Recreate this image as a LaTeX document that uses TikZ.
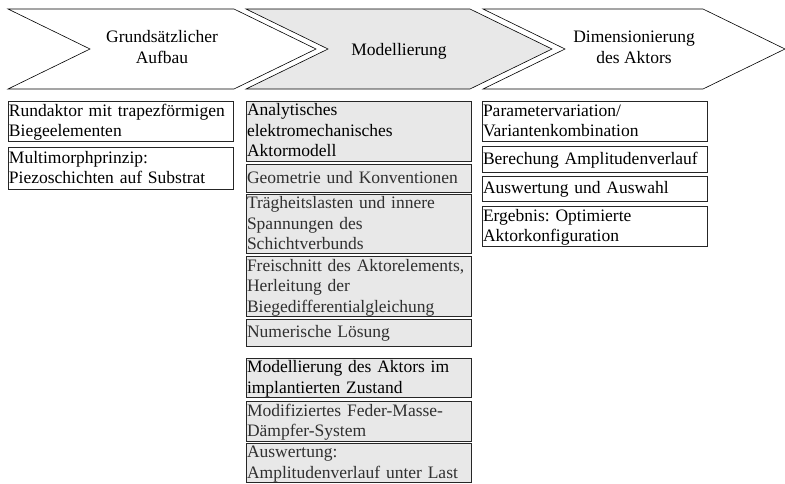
\documentclass[tikz,border=0pt]{standalone}
\usepackage{fontspec}
\setmainfont{Liberation Serif}
\usetikzlibrary{shapes.symbols,positioning}
\definecolor{modelGrey}{RGB}{232,232,232}
\definecolor{subText}{RGB}{48,48,48}
\newcommand{\topStrut}{\rule{0pt}{14.5pt}}
\newcommand{\botStrut}{\rule[-4pt]{0pt}{4pt}}
\tikzset{
    phase/.style={
        ,   signal
        ,   signal to=east
        ,   signal from=west
        ,   signal pointer angle=52
        ,   minimum height=80pt
        ,   inner sep=0pt
        ,   draw=black
        ,   line width=0.6pt
        ,   align=center
        ,   execute at begin node=\rule{0pt}{16pt}
        ,   execute at end node=\botStrut
    },
    itemBox/.style={
        ,   draw=black!85
        ,   line width=0.7pt
        ,   text width=223.5pt
        ,   inner xsep=1pt
        ,   inner ysep=0pt
        ,   outer sep=0pt
        ,   align=left
        ,   execute at begin node=\topStrut
        ,   execute at end node=\botStrut
    },
    modelBox/.style={
        ,   itemBox
        ,   fill=modelGrey
    },
    subItem/.style={
        ,   text=subText
    }
}

\begin{document}
\frenchspacing
\begin{tikzpicture}[x=1pt,y=-1pt
        ,font={\fontsize{17.5pt}{20.5pt}\selectfont}]
    \useasboundingbox (0,0) rectangle (785,483);

    % the three phases
    \node[phase, minimum width=308pt] (p1) at (162,49) {Grundsätzlicher\\Aufbau};
    \node[phase, minimum width=306pt, fill=modelGrey] (p2) at (399,49) {Modellierung};
    \node[phase, minimum width=302pt] (p3) at (634,49) {Dimensionierung\\des Aktors};

    % Grundsaetzlicher Aufbau
    \node[itemBox, minimum height=40pt, anchor=north west] (a1) at (8,101) {Rundaktor mit trapezförmigen\\Biegeelementen};
    \node[itemBox, minimum height=42pt, below=6pt of a1] (a2) {Multimorphprinzip:\\Piezoschichten auf Substrat};

    % Modellierung
    \node[modelBox, minimum height=60pt, anchor=north west] (m1) at (246,101) {Analytisches\\elektromechanisches\\Aktormodell};
    \node[modelBox, subItem, minimum height=28pt, below=3pt of m1] (m2) {Geometrie und Konventionen};
    \node[modelBox, subItem, minimum height=59pt, below=2pt of m2] (m3) {Trägheitslasten und innere\\Spannungen des\\Schichtverbunds};
    \node[modelBox, subItem, minimum height=59pt, below=3pt of m3] (m4) {Freischnitt des Aktorelements,\\Herleitung der\\Biegedifferentialgleichung};
    \node[modelBox, subItem, minimum height=27pt, below=3pt of m4] (m5) {Numerische Lösung};
    \node[modelBox, minimum height=39pt, below=12pt of m5] (m6) {Modellierung des Aktors im\\implantierten Zustand};
    \node[modelBox, subItem, minimum height=40pt, below=4pt of m6] (m7) {Modifiziertes Feder-Masse-\\Dämpfer-System};
    \node[modelBox, subItem, minimum height=39pt, below=2pt of m7] (m8) {Auswertung:\\Amplitudenverlauf unter Last};

    % Dimensionierung des Aktors
    \node[itemBox, minimum height=40pt, anchor=north west] (d1) at (482,101) {Parametervariation/\\Variantenkombination};
    \node[itemBox, minimum height=26pt, below=5pt of d1] (d2) {Berechung Amplitudenverlauf};
    \node[itemBox, minimum height=25pt, below=4pt of d2] (d3) {Auswertung und Auswahl};
    \node[itemBox, minimum height=40pt, below=5pt of d3] (d4) {Ergebnis: Optimierte\\Aktorkonfiguration};
\end{tikzpicture}
\end{document}
